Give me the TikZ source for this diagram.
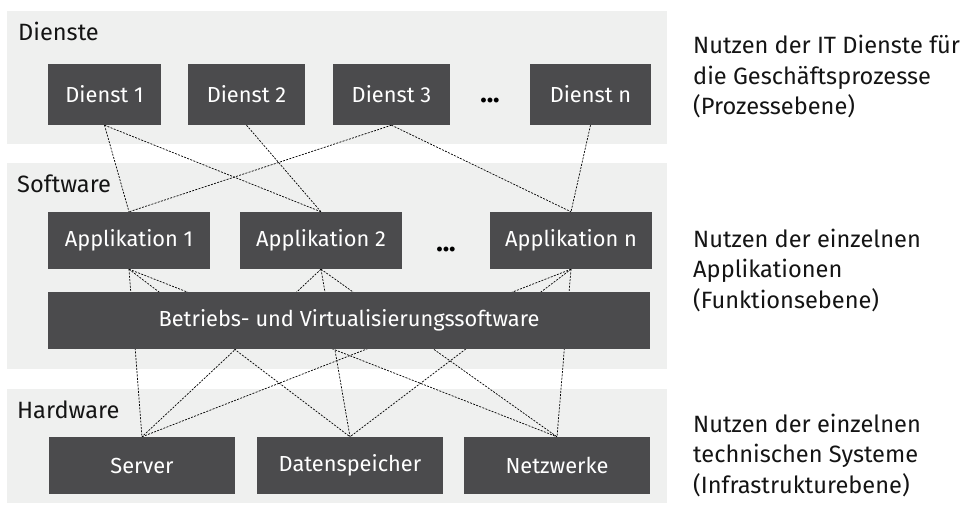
\documentclass[tikz,border=0pt]{standalone}
\usepackage{fontspec}
\setmainfont{Fira Sans}
\usetikzlibrary{positioning}
\definecolor{panelgray}{HTML}{EFF0EF}
\definecolor{boxgray}{HTML}{4B4B4D}
\definecolor{inkblack}{HTML}{141414}
\pgfdeclarelayer{panels}
\pgfdeclarelayer{links}
\pgfsetlayers{panels,links,main}
\tikzset{
  panel/.style={fill=panelgray, draw=none},
  stepbox/.style={fill=boxgray, draw=none, text=white, inner sep=0pt,
    font=\fontsize{21.8}{26}\selectfont},
  layerlabel/.style={anchor=base west, inner sep=0pt, text=inkblack,
    font=\fontsize{23.6}{28}\selectfont},
  note/.style={anchor=base west, inner sep=0pt, text=inkblack,
    font=\fontsize{23.6}{28}\selectfont},
  ellip/.style={inner sep=0pt, text=black, font=\bfseries\fontsize{27}{30}\selectfont},
  link/.style={draw=black, line width=0.7pt, dash pattern=on 2pt off 1.3pt},
}
\begin{document}
\begin{tikzpicture}[x=1pt, y=-1pt]
\useasboundingbox (0,0) rectangle (966,505);

% layer panels
\begin{pgfonlayer}{panels}
  \fill[panel] (7,11) rectangle (667,144);
  \fill[panel] (7,163) rectangle (667,369);
  \fill[panel] (7,389) rectangle (667,503);
\end{pgfonlayer}

\node[layerlabel] (lblD) at (18,40.5) {Dienste};
\node[layerlabel] (lblS) at (17,193) {Software};
\node[layerlabel] (lblH) at (17,418) {Hardware};

% services
\node[stepbox, minimum width=113pt, minimum height=61pt] (d1) at (104.5,94.5) {Dienst 1};
\node[stepbox, minimum width=117pt, minimum height=61pt] (d2) at (246.5,94.5) {Dienst 2};
\node[stepbox, minimum width=117pt, minimum height=61pt] (d3) at (391.5,94.5) {Dienst 3};
\node[ellip] (dd) at (490,101) {...};
\node[stepbox, minimum width=121pt, minimum height=61pt] (dn) at (590.5,94.5) {Dienst n};

% applications
\node[stepbox, minimum width=162pt, minimum height=57pt] (a1) at (129,240.5) {Applikation 1};
\node[stepbox, minimum width=162pt, minimum height=57pt] (a2) at (321,240.5) {Applikation 2};
\node[ellip] (ad) at (446,250) {...};
\node[stepbox, minimum width=162pt, minimum height=57pt] (an) at (571,240.5) {Applikation n};
\node[stepbox, minimum width=602pt, minimum height=57pt] (os) at (349,320.5) {Betriebs- und Virtualisierungssoftware};

% hardware
\node[stepbox, minimum width=186pt, minimum height=57pt] (srv) at (142,465.5) {Server};
\node[stepbox, minimum width=186pt, minimum height=57pt] (dat) at (350,465.5) {Datenspeicher};
\node[stepbox, minimum width=186pt, minimum height=57pt] (net) at (557,465.5) {Netzwerke};

% dependencies (drawn behind the boxes)
\begin{pgfonlayer}{links}
  \draw[link] (d1.south) -- (a1.north);
  \draw[link] (d1.south) -- (a2.north);
  \draw[link] (d2.south) -- (a2.north);
  \draw[link] (d3.south) -- (a1.north);
  \draw[link] (d3.south) -- (an.north);
  \draw[link] (dn.south) -- (an.north);
  \foreach \app in {a1,a2,an}
    \foreach \hw in {srv,dat,net}
      \draw[link] (\app.south) -- (\hw.north);
\end{pgfonlayer}

% benefit notes
\node[note] (n11) at (693,54) {Nutzen der IT Dienste für};
\node[note] (n12) at (693,84.5) {die Geschäftsprozesse};
\node[note] (n13) at (693,115) {(Prozessebene)};
\node[note] (n21) at (693,247) {Nutzen der einzelnen};
\node[note] (n22) at (693,277.5) {Applikationen};
\node[note] (n23) at (693,308) {(Funktionsebene)};
\node[note] (n31) at (693,432) {Nutzen der einzelnen};
\node[note] (n32) at (693,462.5) {technischen Systeme};
\node[note] (n33) at (693,493) {(Infrastrukturebene)};
\end{tikzpicture}
\end{document}
